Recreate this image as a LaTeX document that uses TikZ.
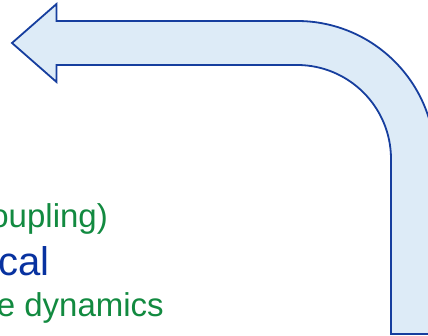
\documentclass[tikz,border=0pt]{standalone}
\usepackage{fontspec}
\setmainfont{Liberation Sans}
\definecolor{arrowfill}{RGB}{221,235,247}
\definecolor{arrowline}{RGB}{22,62,158}
\definecolor{txtgreen}{RGB}{18,138,64}
\definecolor{txtblue}{RGB}{8,50,160}
\tikzset{
  bentarrow/.style={fill=arrowfill, draw=arrowline, line width=1.8pt, line join=miter},
  greentext/.style={text=txtgreen, inner sep=0pt, anchor=base east, font=\fontsize{33}{33}\selectfont},
  bluetext/.style={text=txtblue, inner sep=0pt, anchor=base east, font=\fontsize{40}{40}\selectfont}
}
\begin{document}
\begin{tikzpicture}[x=1pt, y=1pt]
  \useasboundingbox (0,0) rectangle (428,336);
  \clip (0,0) rectangle (428,336);
  % bent arrow: rising shaft on the right, turning left into the head
  \draw[bentarrow]
    (12,293) -- (56.5,332) -- (56.5,315) -- (297,315)
    arc[start angle=90, end angle=0, radius=138] -- (435,2) -- (391,2) -- (391,177)
    arc[start angle=0, end angle=90, radius=94] -- (56.5,271) -- (56.5,254) -- cycle;
  % text lines running off the left edge
  \node[greentext] (coupling) at (108,108) {oupling)};
  \node[bluetext] (physical) at (49.5,60) {cal};
  \node[greentext] (dynamics) at (164,19) {e dynamics};
\end{tikzpicture}
\end{document}
